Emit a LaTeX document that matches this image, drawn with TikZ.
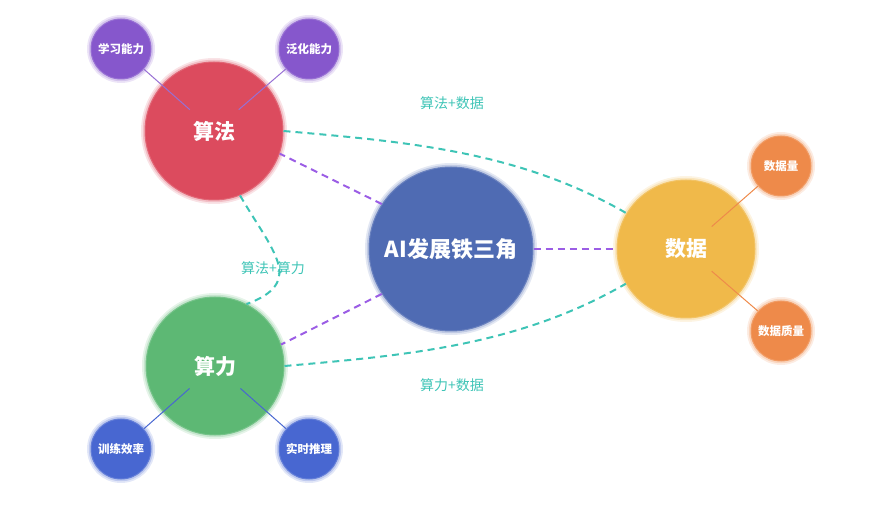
\documentclass[tikz,border=0pt]{standalone}
\usepackage{fontspec}
\setmainfont{Noto Sans CJK SC}
\usepackage{xcolor}
\usepackage{tikz}
\usetikzlibrary{calc, positioning}

\definecolor{coreblue}{HTML}{4F6BB3}
\definecolor{algred}{HTML}{DC4B5E}
\definecolor{compgreen}{HTML}{5DB874}
\definecolor{datayellow}{HTML}{F0B94A}
\definecolor{subpurple}{HTML}{8657CC}
\definecolor{suborange}{HTML}{EE8A4A}
\definecolor{subblue}{HTML}{4867D1}
\definecolor{linkpurple}{HTML}{9B5DE5}
\definecolor{linkteal}{HTML}{3EC4B6}

\begin{document}
\begin{tikzpicture}[
    x=1pt, y=1pt,
    glowball/.style={
        circle, inner sep=0pt, text=white,
        fill=#1, draw=#1!85!white, line width=1pt,
        preaction={draw=#1!45!white, draw opacity=0.35, line width=8pt},
        preaction={draw=#1!55!white, draw opacity=0.5, line width=4.5pt}
    },
    bigball/.style={
        glowball=#1, minimum size=138pt,
        font=\bfseries\fontsize{21}{25}\selectfont
    },
    smallball/.style={
        glowball=#1, minimum size=60pt,
        font=\bfseries\fontsize{11.5}{14}\selectfont
    },
    coredash/.style={draw=linkpurple, dash pattern=on 7pt off 5pt, line width=2pt},
    pairdash/.style={draw=linkteal, dash pattern=on 7pt off 5pt, line width=2pt},
    pairlabel/.style={text=linkteal, font=\fontsize{14}{17}\selectfont},
    spoke/.style={line width=1pt}
]

    \useasboundingbox (0,0) rectangle (895,504);

    % 1. Vòng tròn trung tâm và ba vòng tròn lớn
    \node[glowball=coreblue, minimum size=164pt,
        font=\bfseries\fontsize{22}{26}\selectfont]
        (core) at (451,255) {AI发展铁三角};

    \node[bigball=algred] (alg) at (214,373) {算法};

    \node[bigball=compgreen] (comp) at (215,138) {算力};

    \node[bigball=datayellow] (data) at (686,255) {数据};

    % 2. Các vòng tròn nhỏ
    \node[smallball=subpurple] (learn) at (121,455) {学习能力};
    \node[smallball=subpurple] (gen) at (309,455) {泛化能力};

    \node[smallball=suborange] (vol) at (781,338) {数据量};
    \node[smallball=suborange] (qual) at (781,173) {数据质量};

    \node[smallball=subblue] (train) at (121,55) {训练效率};
    \node[smallball=subblue] (infer) at (309,55) {实时推理};

    % 3. Nét đứt tím: trung tâm -- ba vòng tròn lớn
    \draw[coredash] (core.147) -- (alg.-19);
    \draw[coredash] (core.213) -- (comp.18);
    \draw[coredash] (core.east) -- (data.west);

    % 4. Nét đứt xanh ngọc giữa từng cặp
    \draw[pairdash]
        (alg.east) to[out=-5, in=150, looseness=0.9] (data.149);

    \draw[pairdash]
        (comp.east) to[out=5, in=210, looseness=0.9] (data.210);

    \draw[pairdash]
        (alg.-68) to[out=-60, in=20, looseness=1.5] (comp.63);

    \node[pairlabel] (algdata) at (452,401) {算法+数据};
    \node[pairlabel] (compdata) at (452,119) {算力+数据};
    \node[pairlabel] (algcomp) at (273,236) {算法+算力};

    % 5. Các đường nối vòng tròn nhỏ
    \draw[spoke, draw=subpurple!85!white] (learn) -- ($(alg)!0.26!(learn)$);
    \draw[spoke, draw=subpurple!85!white] (gen) -- ($(alg)!0.26!(gen)$);

    \draw[spoke, draw=suborange] (vol) -- ($(data)!0.27!(vol)$);
    \draw[spoke, draw=suborange] (qual) -- ($(data)!0.27!(qual)$);

    \draw[spoke, draw=subblue] (train) -- ($(comp)!0.27!(train)$);
    \draw[spoke, draw=subblue] (infer) -- ($(comp)!0.27!(infer)$);

\end{tikzpicture}
\end{document}
